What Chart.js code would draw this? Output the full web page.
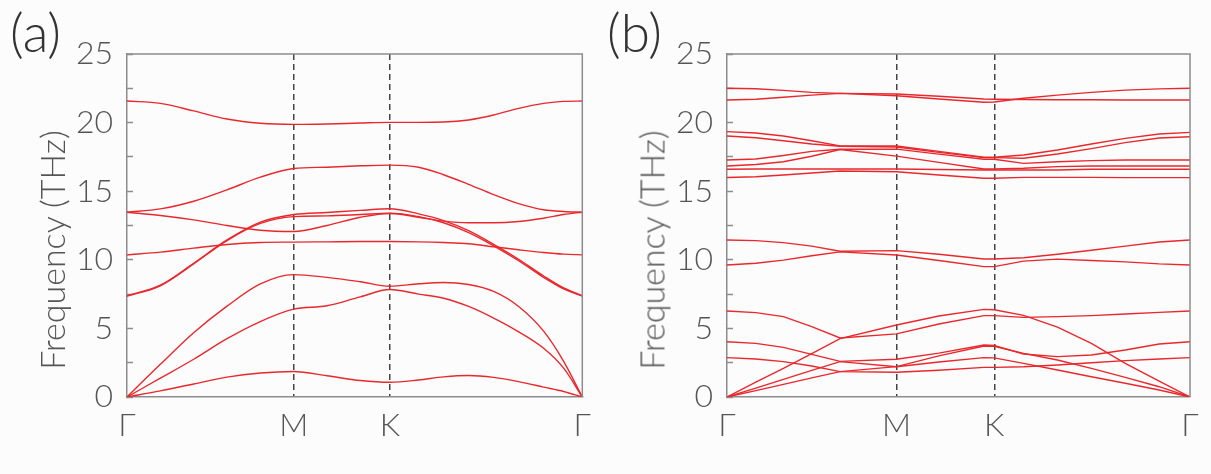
<!DOCTYPE html>
<html>
<head>
<meta charset="utf-8">
<script src="https://cdn.jsdelivr.net/npm/chart.js@4"></script>
<style>
  body { margin: 0; background: #fcfcfc; width: 1211px; height: 474px; overflow: hidden; position: relative; font-family: Lato, 'Open Sans', sans-serif; }
  .panel { position: absolute; top: 0; height: 474px; }
  #boxA { left: 0; width: 600px; }
  #boxB { left: 600px; width: 611px; }
  .tag { position: absolute; top: 0px; font-size: 53px; font-weight: 300; color: #333; }
  .ytitle { position: absolute; top: 250px; font-size: 34px; font-weight: 300; color: #555; white-space: nowrap;
            transform: translate(-50%, -50%) rotate(-90deg); }
</style>
</head>
<body>
<div class="panel" id="boxA"><canvas id="chartA"></canvas></div>
<div class="panel" id="boxB"><canvas id="chartB"></canvas></div>
<div class="tag" style="left:10px">(a)</div>
<div class="tag" style="left:607px">(b)</div>
<div class="ytitle" style="left:51px">Frequency (THz)</div>
<div class="ytitle" style="left:651px">Frequency (THz)</div>
<script>
// high-symmetry path: Γ - M - K - Γ (ΓM scaled to 1)
const kLabels = ['Γ', 'M', 'K', 'Γ'];
const kPoints = [0, 1, 1.577, 2.732];

// panel (a) sample points along the path
const qA = [0, 0.2, 0.4, 0.6, 0.8, 1.0, 1.2, 1.4, 1.577, 1.75, 1.9, 2.05, 2.2, 2.35, 2.5, 2.62, 2.732];
const bandsA = [
  [0, 0.45, 0.95, 1.45, 1.75, 1.86, 1.55, 1.2, 1.07, 1.24, 1.47, 1.57, 1.43, 1.12, 0.72, 0.4, 0],
  [0, 1.37, 2.75, 4.25, 5.5, 6.4, 6.65, 7.3, 7.83, 7.5, 7.2, 6.6, 5.75, 4.75, 3.55, 2.1, 0],
  [0, 2.38, 4.68, 6.62, 8.24, 8.92, 8.72, 8.4, 8.07, 8.25, 8.35, 8.2, 7.7, 6.6, 4.8, 2.6, 0],
  [7.35, 8.1, 9.7, 11.4, 12.65, 13.15, 13.2, 13.3, 13.4, 13.15, 12.7, 11.98, 11.02, 9.93, 8.72, 7.88, 7.35],
  [7.38, 8.15, 9.75, 11.45, 12.75, 13.3, 13.45, 13.6, 13.72, 13.35, 12.86, 12.12, 11.12, 10.03, 8.82, 7.95, 7.38],
  [10.36, 10.56, 10.85, 11.12, 11.26, 11.29, 11.31, 11.33, 11.33, 11.31, 11.26, 11.17, 10.95, 10.73, 10.53, 10.41, 10.36],
  [13.47, 13.23, 12.91, 12.5, 12.15, 12.06, 12.5, 13.1, 13.38, 13.1, 12.82, 12.7, 12.7, 12.79, 13.03, 13.3, 13.47],
  [13.47, 13.71, 14.27, 15.1, 16.02, 16.65, 16.75, 16.85, 16.9, 16.75, 16.2, 15.5, 14.75, 14.1, 13.65, 13.52, 13.47],
  [21.57, 21.4, 20.85, 20.26, 19.95, 19.87, 19.9, 19.97, 20.02, 20.02, 20.04, 20.19, 20.55, 21.04, 21.4, 21.55, 21.57]
];

// panel (b) sample points along the path
const qB = [0, 0.17, 0.333, 0.5, 0.667, 1.0, 1.25, 1.516, 1.577, 1.75, 1.95, 2.15, 2.35, 2.55, 2.732];
const bandsB = [
  [0, 1.08, 2.09, 3.17, 4.25, 5.25, 5.9, 6.39, 6.36, 5.95, 5.1, 3.9, 2.45, 1.15, 0],
  [6.27, 6.15, 5.86, 5.13, 4.3, 4.6, 5.32, 5.93, 5.93, 5.8, 5.86, 5.93, 6.05, 6.17, 6.27],
  [4.03, 3.91, 3.62, 3.11, 2.6, 2.75, 3.2, 3.79, 3.75, 3.13, 2.94, 3.06, 3.43, 3.86, 4.03],
  [2.87, 2.77, 2.58, 2.26, 1.85, 1.8, 1.95, 2.16, 2.16, 2.21, 2.33, 2.5, 2.65, 2.77, 2.87],
  [0, 0.65, 1.29, 1.94, 2.58, 2.21, 2.55, 2.87, 2.85, 2.45, 1.97, 1.48, 1.0, 0.51, 0],
  [0, 0.46, 0.92, 1.39, 1.85, 2.21, 3.0, 3.72, 3.7, 3.18, 2.7, 2.09, 1.43, 0.75, 0],
  [11.44, 11.4, 11.25, 11.0, 10.62, 10.67, 10.4, 10.06, 10.06, 10.15, 10.4, 10.7, 11.0, 11.3, 11.44],
  [9.62, 9.75, 9.98, 10.3, 10.58, 10.35, 9.95, 9.5, 9.5, 9.9, 10.05, 9.95, 9.85, 9.7, 9.62],
  [19.34, 19.24, 19.02, 18.68, 18.3, 18.29, 17.9, 17.47, 17.47, 17.64, 18.0, 18.44, 18.85, 19.17, 19.29],
  [19.02, 18.9, 18.68, 18.44, 18.28, 18.22, 17.83, 17.45, 17.45, 17.4, 17.71, 18.1, 18.54, 18.88, 18.97],
  [17.27, 17.35, 17.6, 17.9, 18.06, 18.07, 17.7, 17.33, 17.33, 17.03, 17.15, 17.23, 17.27, 17.27, 17.27],
  [16.84, 16.95, 17.15, 17.55, 18.04, 17.56, 17.1, 16.62, 16.62, 16.67, 16.79, 16.84, 16.84, 16.84, 16.84],
  [16.6, 16.62, 16.62, 16.62, 16.62, 16.62, 16.58, 16.55, 16.55, 16.55, 16.55, 16.6, 16.6, 16.6, 16.6],
  [16.0, 16.05, 16.18, 16.33, 16.47, 16.42, 16.18, 15.94, 15.94, 16.01, 16.01, 16.01, 15.99, 15.99, 15.99],
  [22.5, 22.47, 22.35, 22.2, 22.13, 22.08, 21.92, 21.72, 21.7, 21.68, 21.67, 21.66, 21.65, 21.65, 21.65],
  [21.65, 21.7, 21.85, 22.0, 22.13, 21.96, 21.72, 21.48, 21.5, 21.77, 22.0, 22.2, 22.37, 22.46, 22.5]
];

const axisGray = '#8c8c8c';
const textGray = '#555';
const bandRed = '#e8282d';
const labelFont = { family: "Lato, 'Open Sans', sans-serif", size: 32, weight: '300' };

// top and right edges of the box
const framePlugin = {
  id: 'frame',
  afterDatasetsDraw(chart) {
    const { ctx, chartArea } = chart;
    ctx.save();
    ctx.strokeStyle = axisGray;
    ctx.lineWidth = 1.5;
    ctx.beginPath();
    ctx.moveTo(chartArea.left, chartArea.top);
    ctx.lineTo(chartArea.right, chartArea.top);
    ctx.lineTo(chartArea.right, chartArea.bottom);
    ctx.stroke();
    ctx.restore();
  }
};

function makeChart(canvasId, q, bands, rightPad, smooth) {
  const ctx = document.getElementById(canvasId).getContext('2d');
  return new Chart(ctx, {
    type: 'line',
    data: {
      datasets: bands.map(b => ({
        data: q.map((x, i) => ({ x: x, y: b[i] })),
        borderColor: bandRed,
        borderWidth: 1.4,
        pointRadius: 0,
        fill: false,
        tension: smooth ? 0.4 : 0,
        cubicInterpolationMode: smooth ? 'monotone' : 'default'
      }))
    },
    options: {
      responsive: true,
      maintainAspectRatio: false,
      animation: false,
      layout: { padding: { left: 0, right: rightPad, top: 54, bottom: 0 } },
      plugins: { legend: { display: false }, tooltip: { enabled: false } },
      scales: {
        x: {
          type: 'linear',
          min: kPoints[0],
          max: kPoints[kPoints.length - 1],
          afterBuildTicks: s => { s.ticks = kPoints.map(v => ({ value: v })); },
          afterFit: s => { s.height = 77; },
          ticks: {
            autoSkip: false,
            maxRotation: 0,
            padding: 9,
            font: labelFont,
            color: textGray,
            callback: (v, i) => kLabels[i]
          },
          grid: {
            drawTicks: false,
            lineWidth: 1.5,
            color: c => (c.index === 1 || c.index === 2) ? '#444' : 'rgba(0,0,0,0)'
          },
          border: { display: true, color: axisGray, width: 1.5, dash: [6, 4] }
        },
        y: {
          min: 0,
          max: 25,
          afterFit: s => { s.width = 127; },
          ticks: {
            stepSize: 2.5,
            autoSkip: false,
            padding: 20,
            font: labelFont,
            color: textGray,
            callback: v => (v % 5 === 0 ? v : '')
          },
          grid: { drawOnChartArea: false, tickLength: -6, tickColor: axisGray, tickWidth: 1.5 },
          border: { color: axisGray, width: 1.5 }
        }
      }
    },
    plugins: [framePlugin]
  });
}

makeChart('chartA', qA, bandsA, 9, true);
makeChart('chartB', qB, bandsB, 21, false);
</script>
</body>
</html>
